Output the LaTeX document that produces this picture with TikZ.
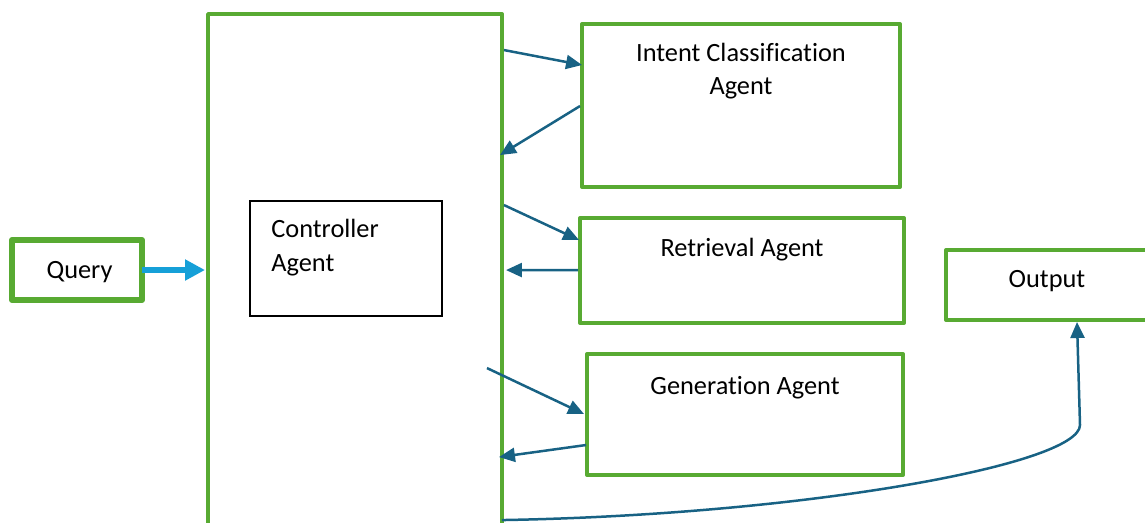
\documentclass[tikz,border=0pt]{standalone}
\usepackage{fontspec}
\setmainfont{Carlito}[Ligatures=NoCommon]
\usetikzlibrary{arrows.meta,positioning}
\definecolor{agentgreen}{RGB}{88,170,50}
\definecolor{flowblue}{RGB}{24,98,132}
\definecolor{queryblue}{RGB}{22,160,216}

\begin{document}
\begin{tikzpicture}[x=0.02cm,y=-0.02cm,font=\fontsize{15}{19}\selectfont,
  agentbox/.style={draw=agentgreen,line width=0.08cm,inner sep=0pt,outer sep=0pt,line join=round},
  txt/.style={inner sep=0pt,align=center},
  flow/.style={draw=flowblue,line width=0.05cm,-{Triangle[length=0.32cm,width=0.28cm]}},
  qflow/.style={draw=queryblue,line width=0.12cm,-{Triangle[length=0.4cm,width=0.4cm]}}]
  \useasboundingbox (0,0) rectangle (1145,522);
  \clip (0,0) rectangle (1145,522);
  \node[agentbox,minimum width=5.88cm,minimum height=10.52cm] (ctrl) at (355,277) {};
  \node[draw,line width=0.7pt,inner sep=0pt,outer sep=0pt,minimum width=3.84cm,minimum height=2.3cm] (ctrlagent) at (346,258.5) {};
  \node[txt,align=left,anchor=north west] (ctrltxt) at ([shift={(21,18)}]ctrlagent.north west) {Controller\\Agent};
  \node[agentbox,line width=0.12cm,minimum width=2.6cm,minimum height=1.2cm,text height=1em,text depth=0.05em] (query) at (77,270) {\hspace{0.1cm}Query};
  \node[agentbox,minimum width=6.36cm,minimum height=3.26cm] (intent) at (741,105.5) {};
  \node[txt,below=0.37cm of intent.north] (intenttxt) {Intent Classification\\Agent};
  \node[agentbox,minimum width=6.48cm,minimum height=2.1cm] (retr) at (742,270.5) {};
  \node[txt,below=0.39cm of retr.north] (retrtxt) {Retrieval Agent};
  \node[agentbox,minimum width=6.32cm,minimum height=2.42cm] (gen) at (745,414.5) {};
  \node[txt,below=0.43cm of gen.north] (gentxt) {Generation Agent};
  \node[agentbox,minimum width=4.04cm,minimum height=1.4cm,text height=0.5em,text depth=0.22em] (output) at (1047,285) {Output};
  \draw[qflow,shorten >=0.06cm] (query.east) -- (query.east -| ctrl.west);
  \draw[flow] ([shift={(2,36)}]ctrl.north east) -- ([shift={(0,41)}]intent.north west);
  \draw[flow] ([shift={(-2,82)}]intent.north west) -- ([shift={(-2,141)}]ctrl.north east);
  \draw[flow] ([shift={(2,191)}]ctrl.north east) -- ([shift={(-1,22)}]retr.north west);
  \draw[flow] ([shift={(-2,52)}]retr.north west) -- ([shift={(4,256)}]ctrl.north east);
  \draw[flow] ([shift={(-15,354)}]ctrl.north east) -- ([shift={(-3,60)}]gen.north west);
  \draw[flow] ([shift={(-1,91)}]gen.north west) -- ([shift={(-3,443)}]ctrl.north east);
  \draw[flow] ([shift={(0,506)}]ctrl.north east) .. controls +(298,-5) and +(0,40) .. ([shift={(33,105)}]output.south) -- ([shift={(30,2)}]output.south);
\end{tikzpicture}
\end{document}
